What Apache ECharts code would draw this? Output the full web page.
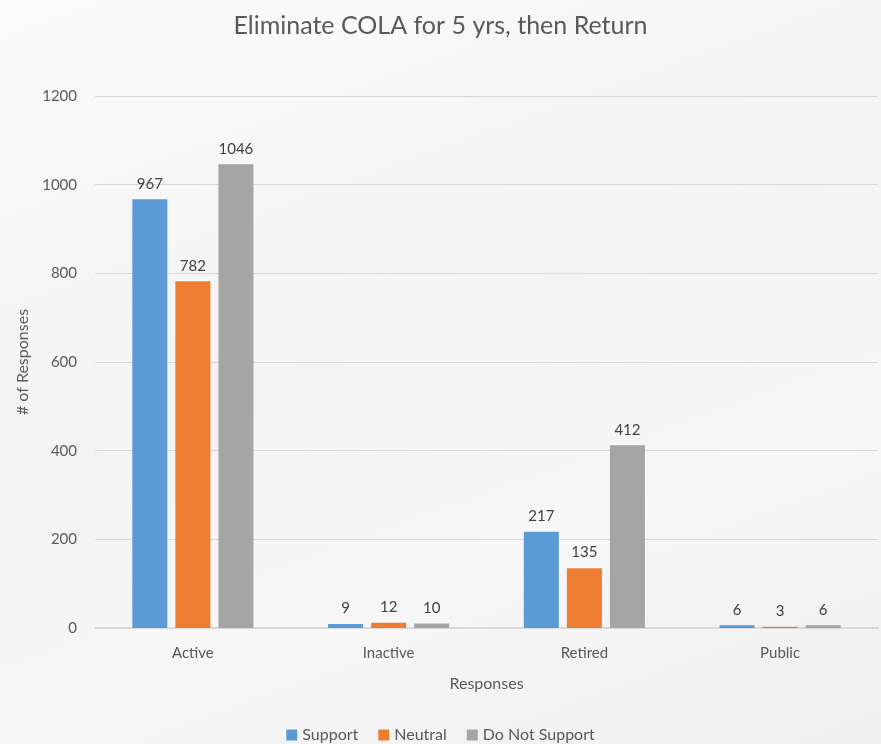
<!DOCTYPE html>
<html>
<head>
<meta charset="utf-8">
<script src="https://cdn.jsdelivr.net/npm/echarts@6/dist/echarts.min.js"></script>
<style>
  html, body { margin: 0; padding: 0; }
  #main { width: 881px; height: 744px; background: linear-gradient(160deg, #fbfbfb 0%, #f3f3f3 45%, #f7f7f7 70%, #efefef 100%); }
</style>
</head>
<body>
<div id="main"></div>
<script>
var categories = ['Active', 'Inactive', 'Retired', 'Public'];
var support = [967, 9, 217, 6];
var neutral = [782, 12, 135, 3];
var doNotSupport = [1046, 10, 412, 6];
var yTicks = [0, 200, 400, 600, 800, 1000, 1200];

var chartDom = document.getElementById('main');
var myChart = echarts.init(chartDom);
var font = 'Lato, "Open Sans", sans-serif';

var label = {
  show: true,
  position: 'top',
  distance: 8,
  color: '#404040',
  fontSize: 15,
  fontFamily: font
};

var option = {
  textStyle: { fontFamily: font },
  title: {
    text: 'Eliminate COLA for 5 yrs, then Return',
    left: 'center',
    top: 8,
    textStyle: { fontSize: 25, fontWeight: 'normal', color: '#595959', fontFamily: font }
  },
  legend: {
    bottom: -4,
    left: 'center',
    itemWidth: 11,
    itemHeight: 11,
    itemGap: 20,
    icon: 'rect',
    textStyle: { color: '#595959', fontSize: 16, fontFamily: font },
    data: ['Support', 'Neutral', 'Do Not Support']
  },
  grid: {
    left: 95,
    right: 3,
    top: 96,
    bottom: 116
  },
  xAxis: {
    type: 'category',
    data: categories,
    name: 'Responses',
    nameLocation: 'middle',
    nameGap: 48,
    nameTextStyle: { color: '#595959', fontSize: 16, fontFamily: font },
    axisLine: { lineStyle: { color: '#d9d9d9', width: 2 } },
    axisTick: { show: false },
    axisLabel: { color: '#595959', fontSize: 15, margin: 18, fontFamily: font },
  },
  yAxis: {
    type: 'value',
    min: 0,
    max: yTicks[yTicks.length - 1],
    interval: 200,
    name: '# of Responses',
    nameLocation: 'middle',
    nameGap: 58,
    nameTextStyle: { color: '#595959', fontSize: 16, fontFamily: font },
    axisLine: { show: false },
    axisTick: { show: false },
    axisLabel: {
      color: '#595959', fontSize: 15, margin: 18, fontFamily: font,
      formatter: function (v) { return String(v); }
    },
    splitLine: { lineStyle: { color: '#d9d9d9', width: 1 } }
  },
  series: [
    {
      name: 'Support',
      type: 'bar',
      data: support,
      barWidth: 35,
      barGap: '23%',
      itemStyle: { color: '#5b9bd5' },
      label: label
    },
    {
      name: 'Neutral',
      type: 'bar',
      data: neutral,
      barWidth: 35,
      barGap: '23%',
      itemStyle: { color: '#ed7d31' },
      label: label
    },
    {
      name: 'Do Not Support',
      type: 'bar',
      data: doNotSupport,
      barWidth: 35,
      barGap: '23%',
      itemStyle: { color: '#a5a5a5' },
      label: label
    }
  ]
};

myChart.setOption(option);
</script>
</body>
</html>
